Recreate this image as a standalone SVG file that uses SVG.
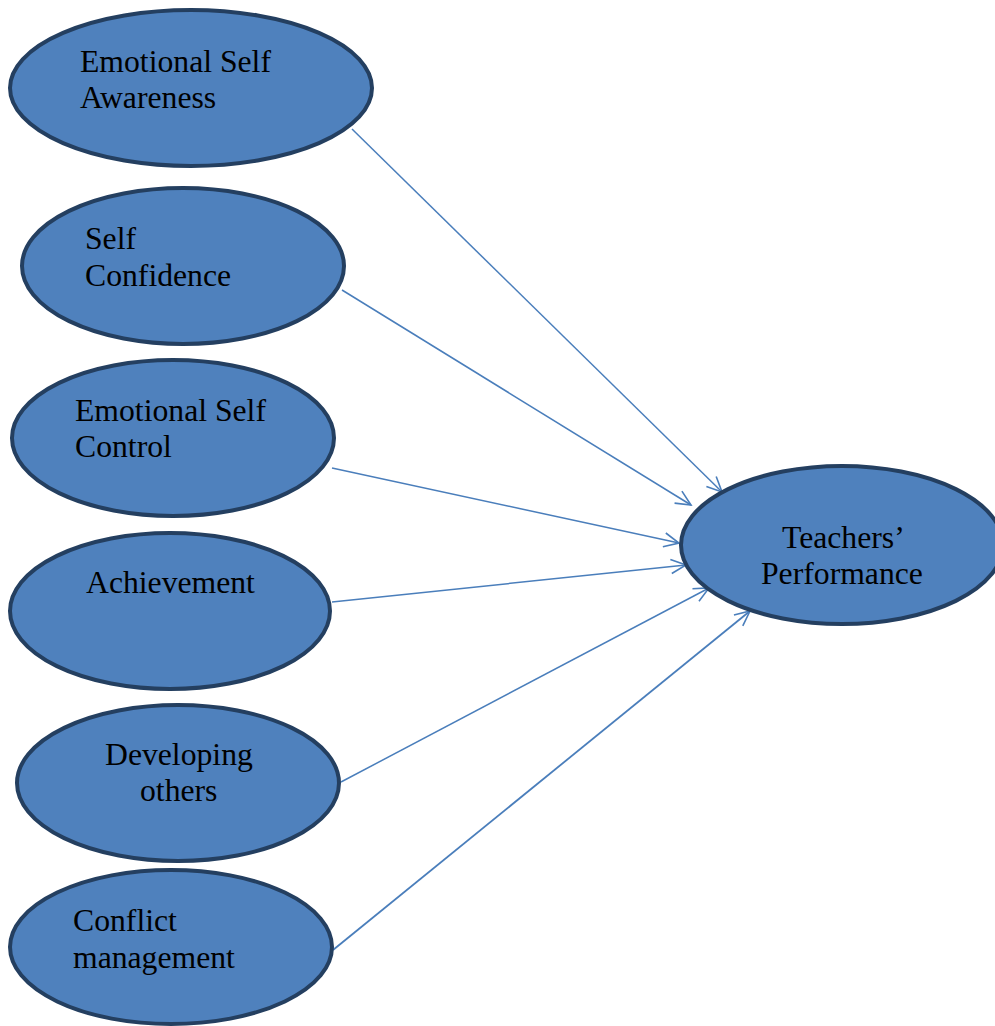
<svg xmlns="http://www.w3.org/2000/svg" width="995" height="1026" viewBox="0 0 995 1026">
<style>
.node ellipse{fill:#4F81BD;stroke:#243F60;stroke-width:4}
.node text{font-family:"Liberation Serif","Times New Roman",serif;font-size:31.7px;fill:#000}
.conn line{stroke:#4A7EBB;stroke-width:1.5;fill:none}
</style>
<defs>
<marker id="arr" markerUnits="userSpaceOnUse" markerWidth="20" markerHeight="20" viewBox="-16 -10 18 20" refX="0" refY="0" orient="auto">
<path d="M-15,-7 L0,0 L-15,7" fill="none" stroke="#4A7EBB" stroke-width="1.6"/>
</marker>
</defs>
<rect width="995" height="1026" fill="#fff"/>
<g id="connectors" class="conn">
<line x1="352" y1="129" x2="722" y2="492" marker-end="url(#arr)"/>
<line x1="342" y1="290" x2="691" y2="505" marker-end="url(#arr)"/>
<line x1="332" y1="468" x2="679" y2="543" marker-end="url(#arr)"/>
<line x1="332" y1="602" x2="686" y2="565" marker-end="url(#arr)"/>
<line x1="341" y1="782" x2="709" y2="588" marker-end="url(#arr)"/>
<line x1="333" y1="950" x2="750" y2="611" marker-end="url(#arr)" style="stroke-width:1.8"/>
</g>
<g id="n1" class="node"><ellipse cx="191" cy="88" rx="181" ry="78"/><text x="80" y="72">Emotional Self</text><text x="80" y="108">Awareness</text></g>
<g id="n2" class="node"><ellipse cx="183" cy="266" rx="161" ry="78"/><text x="85" y="249">Self</text><text x="85" y="286">Confidence</text></g>
<g id="n3" class="node"><ellipse cx="173" cy="438" rx="161" ry="78"/><text x="75" y="421">Emotional Self</text><text x="75" y="457">Control</text></g>
<g id="n4" class="node"><ellipse cx="170" cy="611" rx="160" ry="78"/><text x="86" y="593">Achievement</text></g>
<g id="n5" class="node"><ellipse cx="178" cy="783" rx="161" ry="78"/><text x="105" y="765">Developing</text><text x="140" y="801">others</text></g>
<g id="n6" class="node"><ellipse cx="171" cy="947" rx="161" ry="77"/><text x="73" y="931">Conflict</text><text x="73" y="968">management</text></g>
<g id="n7" class="node"><ellipse cx="842" cy="545" rx="161" ry="79"/><text x="782" y="548">Teachers’</text><text x="761" y="584">Performance</text></g>
</svg>
